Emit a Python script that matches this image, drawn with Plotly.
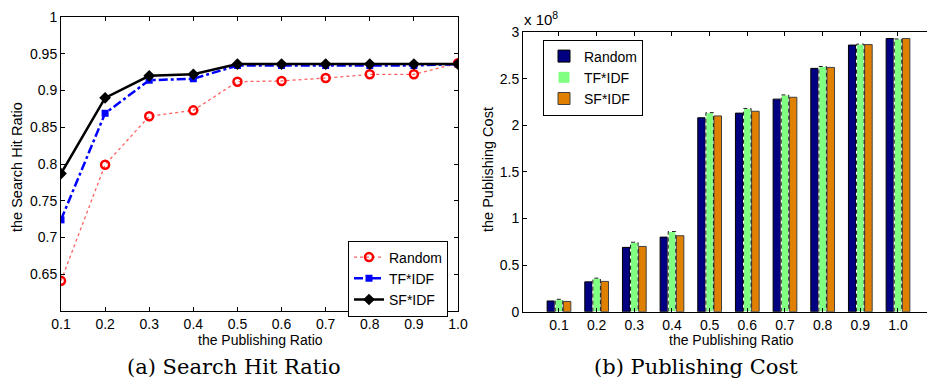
import plotly.graph_objects as go

# ---------------- data ----------------
ratios = [0.1, 0.2, 0.3, 0.4, 0.5, 0.6, 0.7, 0.8, 0.9, 1.0]
ratio_labels = ["0.1", "0.2", "0.3", "0.4", "0.5", "0.6", "0.7", "0.8", "0.9", "1.0"]

hit_random = [0.641, 0.799, 0.865, 0.873, 0.912, 0.913, 0.917, 0.922, 0.922, 0.937]
hit_tfidf = [0.724, 0.869, 0.914, 0.916, 0.934, 0.934, 0.934, 0.934, 0.934, 0.936]
hit_sfidf = [0.787, 0.890, 0.920, 0.922, 0.936, 0.936, 0.936, 0.936, 0.936, 0.936]

cost_random = [0.115, 0.32, 0.69, 0.80, 2.08, 2.13, 2.28, 2.61, 2.86, 2.93]   # x 1e8
cost_tfidf = [0.133, 0.36, 0.745, 0.86, 2.135, 2.18, 2.325, 2.63, 2.87, 2.925]
cost_sfidf = [0.11, 0.325, 0.70, 0.815, 2.10, 2.15, 2.30, 2.62, 2.865, 2.93]

series_names = ["Random", "TF*IDF", "SF*IDF"]
hit_yticks = [0.65, 0.7, 0.75, 0.8, 0.85, 0.9, 0.95, 1.0]
hit_ytext = ["0.65", "0.7", "0.75", "0.8", "0.85", "0.9", "0.95", "1"]
cost_yticks = [0, 0.5, 1, 1.5, 2, 2.5, 3]
cost_ytext = ["0", "0.5", "1", "1.5", "2", "2.5", "3"]

W, H = 927, 381
FONT = "Liberation Sans"
SERIF = "DejaVu Serif"

fig = go.Figure()

# ---------------- left: line chart ----------------
fig.add_trace(go.Scatter(
    x=ratios, y=hit_random, name=series_names[0], mode="lines+markers",
    line=dict(color="#ff6060", width=1.3, dash="dot"),
    marker=dict(symbol="circle-open", size=8, color="#ff0000", line=dict(width=2.5, color="#ff0000")),
    xaxis="x", yaxis="y", legend="legend"))
fig.add_trace(go.Scatter(
    x=ratios, y=hit_tfidf, name=series_names[1], mode="lines+markers",
    line=dict(color="#0000ff", width=2.5, dash="dashdot"),
    marker=dict(symbol="square", size=7, color="#0000ff"),
    xaxis="x", yaxis="y", legend="legend"))
fig.add_trace(go.Scatter(
    x=ratios, y=hit_sfidf, name=series_names[2], mode="lines+markers",
    line=dict(color="#000000", width=2.5),
    marker=dict(symbol="diamond", size=9, color="#000000"),
    xaxis="x", yaxis="y", legend="legend"))

# ---------------- right: grouped bars ----------------
idx = list(range(1, len(ratios) + 1))
bw = 0.2
offsets = [-0.315, -0.1, 0.115]
colors = ["#000080", "#80ff80", "#e08000"]
outlines = ["#000000", "#ffffff", "#404040"]
for name, vals, off, col, oc in zip(series_names, [cost_random, cost_tfidf, cost_sfidf], offsets, colors, outlines):
    fig.add_trace(go.Bar(
        x=idx, y=vals, name=name, width=bw, offset=off,
        marker=dict(color=col, line=dict(color=oc, width=1)),
        xaxis="x2", yaxis="y2", legend="legend2"))

# dashed outline for TF*IDF bars, derived from the data
ox, oy = [], []
for i, v in zip(idx, cost_tfidf):
    x0 = i + offsets[1]
    x1 = x0 + bw
    ox += [x0, x0, x1, x1, None]
    oy += [0, v, v, 0, None]
fig.add_trace(go.Scatter(
    x=ox, y=oy, mode="lines", line=dict(color="#202020", width=1, dash="4px,3px"),
    showlegend=False, hoverinfo="skip", xaxis="x2", yaxis="y2"))

# ---------------- layout ----------------
axis_common = dict(showgrid=False, zeroline=False, showline=True, linecolor="black",
                   linewidth=1, ticks="inside", ticklen=4, tickcolor="black", automargin=False,
                   tickfont=dict(family=FONT, size=14, color="black"))

fig.update_layout(
    width=W, height=H, margin=dict(l=0, r=0, t=0, b=0, autoexpand=False),
    paper_bgcolor="white", plot_bgcolor="white",
    barmode="overlay", showlegend=True,
    font=dict(family=FONT, size=13, color="black"),
    xaxis=dict(domain=[61 / W, 458 / W], range=[0.1, 1.0], anchor="y",
               tickvals=ratios, ticktext=ratio_labels, mirror="allticks", **axis_common),
    yaxis=dict(domain=[(H - 311) / H, (H - 17) / H], range=[0.6, 1.0], anchor="x",
               tickvals=hit_yticks, ticktext=hit_ytext, mirror="allticks", **axis_common),
    xaxis2=dict(domain=[523 / W, 1.0], range=[0.045, 10.77], anchor="y2",
                tickvals=idx, ticktext=ratio_labels, mirror="allticks", **axis_common),
    yaxis2=dict(domain=[(H - 311.7) / H, (H - 32) / H], range=[0, 3], anchor="x2",
                tickvals=cost_yticks, ticktext=cost_ytext, **axis_common),
    legend=dict(x=448 / W, xanchor="right", y=(H - 240.5) / H, yanchor="top",
                bgcolor="white", bordercolor="black", borderwidth=1,
                font=dict(family=FONT, size=14, color="black"),
                tracegroupgap=0, itemwidth=30),
    legend2=dict(x=543 / W, xanchor="left", y=(H - 39.5) / H, yanchor="top",
                 bgcolor="white", bordercolor="black", borderwidth=1,
                 font=dict(family=FONT, size=14, color="black"),
                 tracegroupgap=0, itemwidth=30),
)

ann = [
    dict(text="the Search Hit Ratio", x=17 / W, y=(H - 167) / H, textangle=-90, font=dict(size=14.5)),
    dict(text="the Publishing Ratio", x=260 / W, y=(H - 340) / H, font=dict(size=14)),
    dict(text="the Publishing Cost", x=488 / W, y=(H - 170) / H, textangle=-90, font=dict(size=14.5)),
    dict(text="the Publishing Ratio", x=731 / W, y=(H - 340) / H, font=dict(size=14)),
    dict(text="x 10<sup>8</sup>", x=541 / W, y=(H - 19) / H, font=dict(size=15)),
    dict(text="(a) Search Hit Ratio", x=234 / W, y=(H - 367) / H, font=dict(family=SERIF, size=21)),
    dict(text="(b) Publishing Cost", x=696 / W, y=(H - 367) / H, font=dict(family=SERIF, size=21)),
]
for a in ann:
    f = dict(family=FONT, size=13, color="black")
    f.update(a.pop("font"))
    fig.add_annotation(xref="paper", yref="paper", showarrow=False, xanchor="center",
                       yanchor="middle", font=f, **a)

fig.write_html("out.html", config={"displayModeBar": False},
               post_script="document.body.style.margin='0';document.body.style.overflow='hidden';")
